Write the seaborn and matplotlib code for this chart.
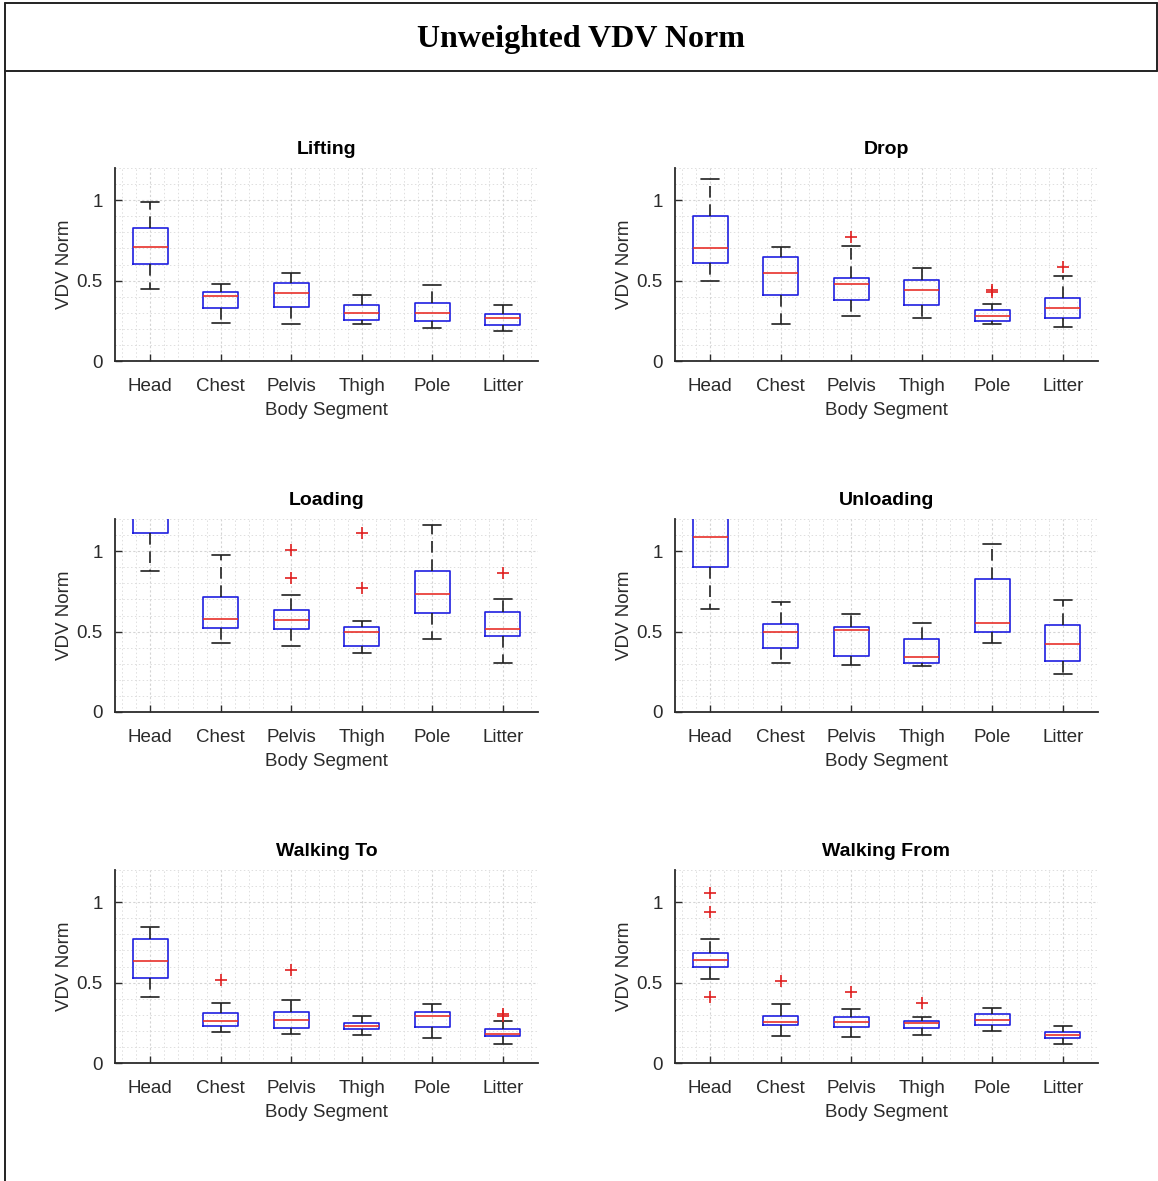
import numpy as np
import matplotlib
matplotlib.use("Agg")
import matplotlib.pyplot as plt
from matplotlib.ticker import MultipleLocator, FixedLocator
from matplotlib.lines import Line2D
import seaborn as sns

# Body segments on the x axis and the six activities (one panel each)
segments = ["Head", "Chest", "Pelvis", "Thigh", "Pole", "Litter"]
activities = ["Lifting", "Drop", "Loading", "Unloading", "Walking To", "Walking From"]

# Box statistics per activity (rows) and segment (columns)
whisker_low = [
    [0.448, 0.235, 0.229, 0.227, 0.208, 0.188],
    [0.496, 0.229, 0.279, 0.269, 0.229, 0.213],
    [0.874, 0.430, 0.409, 0.366, 0.452, 0.306],
    [0.640, 0.304, 0.291, 0.283, 0.426, 0.236],
    [0.412, 0.195, 0.182, 0.176, 0.153, 0.118],
    [0.522, 0.166, 0.159, 0.174, 0.200, 0.120],
]
quartile_1 = [
    [0.606, 0.327, 0.338, 0.254, 0.248, 0.223],
    [0.608, 0.413, 0.377, 0.350, 0.246, 0.269],
    [1.110, 0.525, 0.514, 0.409, 0.618, 0.471],
    [0.903, 0.399, 0.351, 0.304, 0.496, 0.320],
    [0.528, 0.232, 0.215, 0.213, 0.224, 0.166],
    [0.596, 0.234, 0.224, 0.217, 0.236, 0.155],
]
median = [
    [0.706, 0.402, 0.421, 0.296, 0.300, 0.265],
    [0.702, 0.550, 0.477, 0.444, 0.279, 0.329],
    [1.270, 0.576, 0.570, 0.498, 0.731, 0.514],
    [1.085, 0.498, 0.510, 0.343, 0.554, 0.421],
    [0.636, 0.259, 0.267, 0.232, 0.294, 0.182],
    [0.640, 0.253, 0.255, 0.246, 0.267, 0.176],
]
quartile_3 = [
    [0.830, 0.431, 0.488, 0.346, 0.363, 0.290],
    [0.902, 0.644, 0.519, 0.502, 0.317, 0.394],
    [1.420, 0.713, 0.632, 0.531, 0.876, 0.622],
    [1.220, 0.545, 0.531, 0.455, 0.829, 0.539],
    [0.768, 0.311, 0.319, 0.248, 0.319, 0.211],
    [0.683, 0.290, 0.288, 0.261, 0.306, 0.190],
]
whisker_high = [
    [0.990, 0.477, 0.546, 0.410, 0.471, 0.350],
    [1.129, 0.708, 0.717, 0.577, 0.354, 0.527],
    [1.650, 0.977, 0.725, 0.568, 1.165, 0.702],
    [1.400, 0.684, 0.610, 0.556, 1.043, 0.696],
    [0.843, 0.373, 0.393, 0.290, 0.366, 0.261],
    [0.768, 0.364, 0.337, 0.288, 0.342, 0.230],
]
outliers = [
    [[], [], [], [], [], []],
    [[], [], [0.771], [], [0.442, 0.427], [0.583]],
    [[], [], [1.008, 0.835], [1.112, 0.769], [], [0.862]],
    [[], [], [], [], [], []],
    [[], [0.516], [0.576], [], [], [0.304, 0.294]],
    [[1.056, 0.936, 0.412], [0.511], [0.441], [0.373], [], []],
]

sns.set_theme(style="white")
plt.rcParams["font.family"] = ["Liberation Sans", "DejaVu Sans"]

W, H = 1158, 1181
fig = plt.figure(figsize=(W / 100, H / 100), dpi=100)
fig.patch.set_facecolor("white")

# Header frame with the overall title
frame_kw = dict(color="#222222", lw=1.4, transform=fig.transFigure)
fig.add_artist(Line2D([5 / W, 5 / W], [0, 1 - 3 / H], **frame_kw))
fig.add_artist(Line2D([5 / W, 1157 / W], [1 - 3 / H, 1 - 3 / H], **frame_kw))
fig.add_artist(Line2D([5 / W, 1157 / W], [1 - 71 / H, 1 - 71 / H], **frame_kw))
fig.add_artist(Line2D([1157 / W, 1157 / W], [1 - 71 / H, 1 - 3 / H], **frame_kw))
fig.text(581 / W, 1 - 40 / H, "Unweighted VDV Norm", ha="center", va="center",
         fontsize=23, fontweight="bold",
         family=["Liberation Serif", "DejaVu Serif"], color="black")

col_left = [115, 675]
row_bottom = [361, 712, 1063]
ax_w, ax_h = 423, 193

txt_col = "#2b2b2b"
positions = np.arange(1, len(segments) + 1)

for k, act in enumerate(activities):
    r, c = divmod(k, 2)
    ax = fig.add_axes([col_left[c] / W, 1 - row_bottom[r] / H, ax_w / W, ax_h / H])
    ax.set_facecolor("white")

    stats = []
    for j, seg in enumerate(segments):
        stats.append(dict(
            label=seg,
            whislo=whisker_low[k][j],
            q1=quartile_1[k][j],
            med=median[k][j],
            q3=quartile_3[k][j],
            whishi=whisker_high[k][j],
            fliers=outliers[k][j],
        ))

    ax.bxp(
        stats, positions=positions, widths=0.5, showfliers=True,
        boxprops=dict(color="#1f1fe0", lw=1.2),
        medianprops=dict(color="#e8302a", lw=1.2),
        whiskerprops=dict(color="#202020", lw=1.2, linestyle=(0, (7, 4))),
        capprops=dict(color="#202020", lw=1.2),
        capwidths=0.25,
        flierprops=dict(marker="+", markeredgecolor="#e02020", markersize=9,
                        markeredgewidth=1.2, linestyle="none"),
        zorder=3,
    )

    ax.set_xlim(0.5, 6.5)
    ax.set_ylim(0, 1.2)
    ax.xaxis.set_major_locator(FixedLocator(positions))
    ax.set_xticklabels(segments)
    ax.xaxis.set_minor_locator(MultipleLocator(0.2))
    ax.yaxis.set_major_locator(FixedLocator([0, 0.5, 1]))
    ax.set_yticklabels(["0", "0.5", "1"])
    ax.yaxis.set_minor_locator(MultipleLocator(0.1))

    ax.grid(True, which="major", color="#d4d4d4", lw=0.8, linestyle=(0, (2, 2)))
    ax.grid(True, which="minor", color="#dedede", lw=0.7, linestyle=(0, (1.5, 2.5)))
    ax.set_axisbelow(True)

    for side in ("top", "right"):
        ax.spines[side].set_visible(False)
    for side in ("left", "bottom"):
        ax.spines[side].set_color(txt_col)
        ax.spines[side].set_linewidth(1.3)

    ax.tick_params(axis="both", which="major", direction="in", length=5,
                   width=1, color=txt_col, labelsize=13.5, labelcolor=txt_col,
                   left=True, bottom=True)
    ax.tick_params(axis="x", which="major", pad=12)
    ax.tick_params(axis="y", which="major", pad=9)
    ax.tick_params(which="minor", length=0)

    ax.set_title(act, fontsize=14, fontweight="bold", color="black", pad=10)
    ax.set_xlabel("Body Segment", fontsize=13.5, color=txt_col, labelpad=5.5)
    ax.set_ylabel("VDV Norm", fontsize=13.5, color=txt_col, labelpad=2)

fig.savefig("out.png", dpi=100, facecolor="white")
